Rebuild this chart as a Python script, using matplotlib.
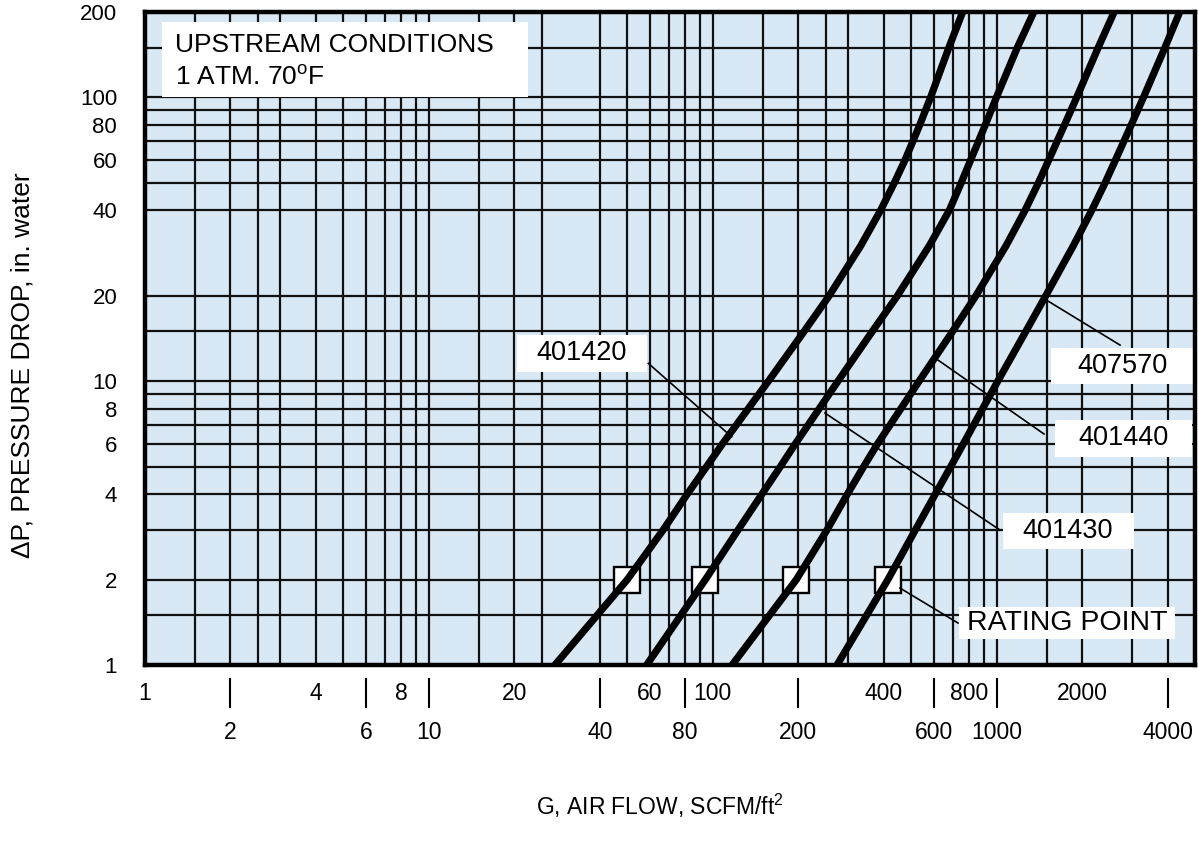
import numpy as np
import matplotlib as mpl
mpl.use('Agg')  # no display
from matplotlib import pyplot as plt
from matplotlib.patches import Rectangle
from matplotlib.ticker import NullLocator

plt.rcParams['font.family'] = ['Liberation Sans', 'DejaVu Sans']

# curves: air flow G (SCFM/ft2) at each pressure drop (in. water)
dp = [1, 2, 3, 4, 5, 6, 10, 15, 20, 30, 40, 50, 60, 80, 100, 150, 200]
g_401420 = [27.8, 50, 67, 81.3, 95.1, 108, 157, 210, 257, 332, 390, 436, 475, 536, 585, 679, 759]
g_401430 = [58.5, 94.2, 123, 149, 173, 195, 276, 365, 447, 579, 681, 750, 809, 912, 998, 1183, 1352]
g_401440 = [117, 197, 253, 298, 340, 380, 533, 700, 845, 1079, 1259, 1403, 1524, 1734, 1914, 2280, 2594]
g_407570 = [274, 414, 518, 608, 689, 762, 1009, 1268, 1489, 1862, 2163, 2410, 2618, 2979, 3289, 3917, 4416]

# rating points (one per curve, at 2 in. water)
rating_g = [50, 94.2, 197, 414]
rating_dp = [2, 2, 2, 2]

# grid lines as printed on the chart
x_grid = [1.5, 2, 2.5, 3, 4, 5, 6, 7, 8, 9, 10, 15, 20, 25, 40, 50, 60, 70, 80, 90,
          100, 150, 200, 250, 300, 400, 500, 600, 700, 800, 900, 1000,
          1500, 2000, 3000, 4000]
y_grid = [1.5, 2, 3, 4, 5, 6, 7, 8, 9, 10, 15, 20, 40, 50, 60, 70, 80, 90, 100, 150]

y_ticks = [1, 2, 4, 6, 8, 10, 20, 40, 60, 80, 100, 200]
x_labels_top = [1, 4, 8, 20, 60, 100, 400, 800, 2000]
x_labels_low = [2, 6, 10, 40, 80, 200, 600, 1000, 4000]

fig = plt.figure(figsize=(11.99, 8.5), dpi=100)
ax = fig.add_axes([0.1209, 0.2176, 0.8758, 0.7682])
ax.set_xscale('log')
ax.set_yscale('log')
ax.set_xlim(1, 5000)
ax.set_ylim(1, 200)
ax.set_facecolor('#d8e8f5')

for v in x_grid:
    ax.axvline(v, color='#111111', lw=1.6, zorder=1)
for v in y_grid:
    ax.axhline(v, color='#111111', lw=1.6, zorder=1)

ax.plot(rating_g, rating_dp, 's', ms=18.5, mfc='white', mec='black', mew=1.7, zorder=3)
for g in [g_401420, g_401430, g_401440, g_407570]:
    ax.plot(g, dp, color='black', lw=5.2, zorder=4, solid_joinstyle='round')

# y ticks
ax.yaxis.set_minor_locator(NullLocator())
ax.set_yticks(y_ticks)
ax.set_yticklabels([str(v) for v in y_ticks], fontsize=16)
ax.tick_params(axis='y', length=0, pad=20)

# x ticks drawn by hand in two staggered rows
ax.set_xticks([])
ax.xaxis.set_minor_locator(NullLocator())
xt = ax.get_xaxis_transform()
for v in x_labels_top:
    ax.text(v, -0.043, str(v), transform=xt, ha='center', va='center', fontsize=16.5)
for v in x_labels_low:
    ax.text(v, -0.104, str(v), transform=xt, ha='center', va='center', fontsize=16.5)
    ax.plot([v, v], [-0.022, -0.064], transform=xt, color='black', lw=1.5, clip_on=False)

for s in ax.spines.values():
    s.set_linewidth(3.2)
    s.set_zorder(10)

# white label boxes (axes fraction)
boxes = [
    (0.0162, 0.8699, 0.3486, 0.1148),
    (0.3543, 0.4487, 0.1238, 0.0567),
    (0.8629, 0.4303, 0.1361, 0.0551),
    (0.8667, 0.3185, 0.1304, 0.0567),
    (0.8171, 0.1776, 0.1248, 0.0552),
    (0.7752, 0.0398, 0.2058, 0.0490),
]
for x0, y0, w, h in boxes:
    ax.add_patch(Rectangle((x0, y0), w, h, transform=ax.transAxes,
                           facecolor='white', edgecolor='none', zorder=5))

leaders = [
    ((0.4794, 0.5587), (0.4620, 0.3496)),
    ((0.8600, 0.9286), (0.5574, 0.4900)),
    ((0.7552, 0.8562), (0.4671, 0.3538)),
    ((0.6476, 0.8143), (0.3859, 0.2067)),
    ((0.7190, 0.7743), (0.1179, 0.0643)),
]
for xs, ys in leaders:
    ax.plot(xs, ys, transform=ax.transAxes, color='black', lw=1.2, zorder=4.5)

ta = ax.transAxes
ax.text(0.0286, 0.9495, 'UPSTREAM CONDITIONS', transform=ta, ha='left', va='center', fontsize=19, zorder=6)
ax.text(0.0286, 0.9005, r'1 ATM. 70$^{\mathregular{o}}$F', transform=ta, ha='left', va='center', fontsize=19, zorder=6)
ax.text(0.4162, 0.4778, '401420', transform=ta, ha='center', va='center', fontsize=19.5, zorder=6)
ax.text(0.9305, 0.4579, '407570', transform=ta, ha='center', va='center', fontsize=19.5, zorder=6)
ax.text(0.9314, 0.3476, '401440', transform=ta, ha='center', va='center', fontsize=19.5, zorder=6)
ax.text(0.8790, 0.2052, '401430', transform=ta, ha='center', va='center', fontsize=19.5, zorder=6)
ax.text(0.8780, 0.0643, 'RATING POINT', transform=ta, ha='center', va='center', fontsize=20.5, zorder=6)

fig.text(0.019, 0.57, 'ΔP, PRESSURE DROP, in. water', rotation=90, ha='center', va='center', fontsize=19)
fig.text(0.55, 0.052, r'G, AIR FLOW, SCFM/ft$^{\mathregular{2}}$', ha='center', va='center', fontsize=16.5)

fig.savefig('out.png', dpi=100)
